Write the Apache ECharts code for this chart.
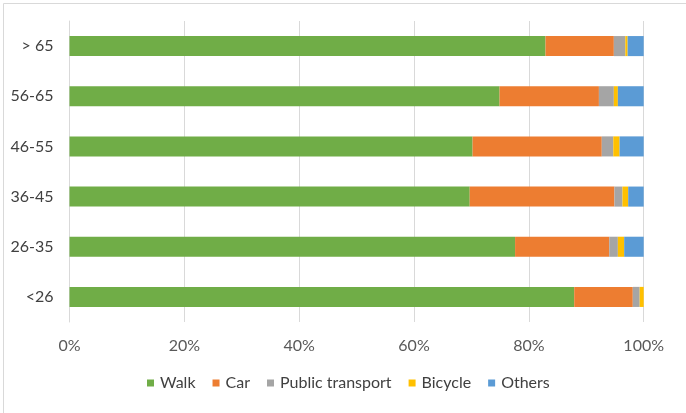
<!DOCTYPE html>
<html>
<head>
<meta charset="utf-8">
<script src="https://cdn.jsdelivr.net/npm/echarts@6/dist/echarts.min.js"></script>
<style>html,body{margin:0;padding:0;background:#fff}#c{width:686px;height:413px}</style>
</head>
<body>
<div id="c"></div>
<script>
var categories = ['<26', '26-35', '36-45', '46-55', '56-65', '> 65'];
var seriesNames = ['Walk', 'Car', 'Public transport', 'Bicycle', 'Others'];
var walk = [87.9, 77.6, 69.7, 70.2, 74.9, 82.9];
var car = [10.2, 16.4, 25.2, 22.5, 17.3, 11.9];
var publicTransport = [1.2, 1.5, 1.4, 2.0, 2.6, 2.0];
var bicycle = [0.7, 1.1, 1.0, 1.1, 0.7, 0.4];
var others = [0.0, 3.4, 2.7, 4.2, 4.5, 2.8];
var xTicks = [0, 20, 40, 60, 80, 100];

var colors = ['#70AD47', '#ED7D31', '#A5A5A5', '#FFC000', '#5B9BD5'];
var values = [walk, car, publicTransport, bicycle, others];
var font = 'Lato, "Open Sans", sans-serif';

var chart = echarts.init(document.getElementById('c'));
chart.setOption({
  animation: false,
  color: colors,
  graphic: [{
    type: 'rect', left: 1, top: 1, silent: true,
    shape: { width: 683, height: 410 },
    style: { fill: 'none', stroke: '#d9d9d9', lineWidth: 1 }
  }],
  grid: { left: 69.5, right: 42.3, top: 21, bottom: 91, containLabel: false },
  xAxis: {
    type: 'value', min: xTicks[0], max: xTicks[xTicks.length - 1], interval: 20,
    axisLine: { show: false }, axisTick: { show: false },
    splitLine: { lineStyle: { color: '#d9d9d9', width: 1 } },
    axisLabel: { formatter: '{value}%', color: '#595959', fontSize: 16, fontFamily: font, margin: 16 }
  },
  yAxis: {
    type: 'category', data: categories,
    axisLine: { show: true, lineStyle: { color: '#d9d9d9' } },
    axisTick: { show: false },
    axisLabel: { color: '#404040', fontSize: 16, fontFamily: font, margin: 16 }
  },
  legend: {
    bottom: 17, left: 142, itemWidth: 7, itemHeight: 7, itemGap: 17,
    icon: 'rect',
    textStyle: { color: '#404040', fontSize: 16, fontFamily: font, padding: [0, 0, 0, 1] },
    data: seriesNames
  },
  series: seriesNames.map(function (n, i) {
    return {
      name: n, type: 'bar', stack: 'total', barWidth: '40%',
      data: values[i], itemStyle: { color: colors[i] }
    };
  })
});
</script>
</body>
</html>
